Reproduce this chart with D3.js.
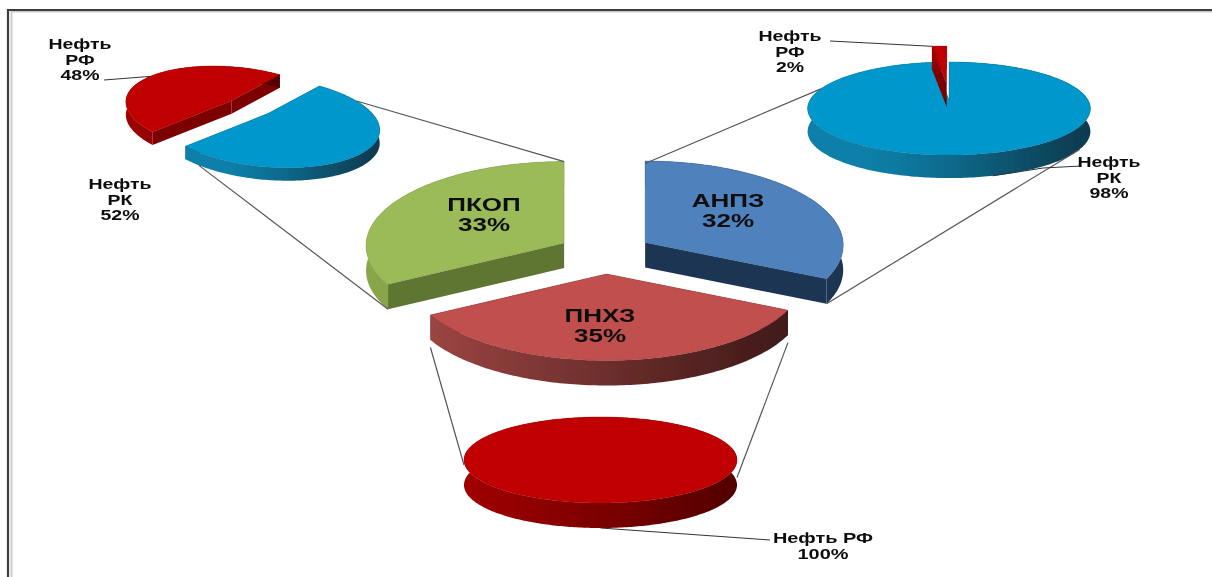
<!DOCTYPE html>
<html>
<head>
<meta charset="utf-8">
<script src="https://cdn.jsdelivr.net/npm/d3@7"></script>
<style>
  html, body { margin: 0; padding: 0; background: #fff; }
  svg { display: block; }
  text { font-family: "Liberation Sans", Arial, sans-serif; font-weight: bold; text-anchor: middle; }
</style>
</head>
<body>
<svg width="1212" height="577" viewBox="0 0 1212 577"></svg>
<script>
// plants, share of total
const plants = ["АНПЗ", "ПНХЗ", "ПКОП"];
const plantShare = [32, 35, 33];

// crude source per plant
const leftNames = ["Нефть РК", "Нефть РФ"];
const leftShare = [52, 48];
const rightNames = ["Нефть РК", "Нефть РФ"];
const rightShare = [98, 2];
const bottomNames = ["Нефть РФ"];
const bottomShare = [100];

const rad = Math.PI / 180;
const svg = d3.select("svg");
const defs = svg.append("defs");
defs.append("filter").attr("id", "soft")
  .append("feGaussianBlur").attr("stdDeviation", 0.45);
const root = svg.append("g").attr("filter", "url(#soft)");

// frame, only the top and left sides show in the picture
root.append("path").attr("d", "M1212,11.5H11.5V577").attr("fill", "none").attr("stroke", "#ccc").attr("stroke-width", 2);
root.append("path").attr("d", "M1212,10H8V577").attr("fill", "none").attr("stroke", "#3c3c3c").attr("stroke-width", 2.2);

// circle -> screen, p is the perspective squeeze of the far side, k a slight tilt
function projector(cfg) {
  return (theta, r) => {
    const u = Math.sin(theta) * r, v = Math.cos(theta) * r;
    const w = 1 + cfg.p * v;
    const x = cfg.rx * u / w;
    return [x, -cfg.ry * v / w + (cfg.k || 0) * x];
  };
}

function layoutPie(cfg, values) {
  const proj = projector(cfg);
  const arcs = d3.pie().sort(null).startAngle(cfg.start * rad).endAngle((cfg.start + 360) * rad)(values);
  return arcs.map((a, i) => {
    const mid = (a.startAngle + a.endAngle) / 2;
    const e = cfg.explode[i];
    return {
      ...a,
      cfg,
      proj,
      scale: cfg.scale ? cfg.scale[i] : 1,
      ox: cfg.cx + e * Math.sin(mid),
      oy: cfg.cy - e * Math.cos(mid) * cfg.ky,
      style: cfg.styles[i]
    };
  });
}

// point on a slice, on top face (down=0) or lower rim (down=1)
function pt(s, deg, down) {
  const [x, y] = s.proj(deg * rad, 1);
  return [s.ox + x * s.scale, s.oy + y * s.scale + (down || 0) * s.cfg.depth];
}

function rimPoints(s, down) {
  const n = Math.max(6, Math.round((s.endAngle - s.startAngle) / rad));
  return d3.range(n + 1).map((i) => {
    const t = s.startAngle + (s.endAngle - s.startAngle) * i / n;
    return pt(s, t / rad, down);
  });
}

let gradId = 0;
function wallGradient(s) {
  const id = "wall" + gradId++;
  const pts = rimPoints(s, 0);
  const ext = d3.extent(pts, (d) => d[0]);
  const g = defs.append("linearGradient").attr("id", id).attr("gradientUnits", "userSpaceOnUse")
    .attr("x1", ext[0]).attr("x2", ext[1]).attr("y1", 0).attr("y2", 0);
  const color = d3.scaleLinear().domain(d3.range(s.style.wall.length).map((i) => i / (s.style.wall.length - 1))).range(s.style.wall);
  d3.range(0, 1.01, 0.1).forEach((o) => g.append("stop").attr("offset", o).attr("stop-color", color(o)));
  return "url(#" + id + ")";
}

const line = d3.line();

function drawSlice(g, s) {
  const isFull = s.endAngle - s.startAngle > 6.28;
  const top = rimPoints(s, 0), low = rimPoints(s, 1);
  const apex = [s.ox, s.oy], apexLow = [s.ox, s.oy + s.cfg.depth];
  if (!isFull) {
    // cut faces
    [top[0], top[top.length - 1]].forEach((c, i) => {
      const cLow = i ? low[low.length - 1] : low[0];
      g.append("path").attr("d", line([apex, c, cLow, apexLow]) + "Z").attr("fill", s.style.cut);
    });
  }
  g.append("path").attr("d", line(top.concat(low.slice().reverse())) + "Z").attr("fill", wallGradient(s));
  const face = isFull ? top : [apex].concat(top);
  g.append("path").attr("d", line(face) + "Z").attr("fill", s.style.top)
    .attr("stroke", s.style.edge).attr("stroke-width", 0.6).attr("stroke-opacity", 0.6);
}

const kzStyle = { top: "#0097cc", cut: "#006f99", edge: "#0b6f95", wall: ["#0a7fa9", "#0a7fa9", "#0c6a8c", "#0e4f69", "#0b3a4e"] };
const ruStyle = { top: "#c00000", cut: "#7d0000", edge: "#8e0000", wall: ["#a00000", "#8a0000", "#6e0000", "#520000"] };

const mainCfg = {
  cx: 605, cy: 253.5, rx: 198, ry: 84, p: 0.03, ky: 0.43, depth: 25, start: 0,
  explode: [47.5, 47.5, 47.5],
  styles: [
    { top: "#4f81bd", cut: "#1f3552", edge: "#3a6290", wall: ["#1f3a5c", "#1d3453"] },
    { top: "#c0504d", cut: "#6b2a28", edge: "#8e3a38", wall: ["#9a4542", "#7c3533", "#5b2624", "#411a19"] },
    { top: "#9bbb59", cut: "#5f7431", edge: "#7b9a40", wall: ["#89a64c", "#7f9a45"] }
  ]
};
const leftCfg = {
  cx: 250, cy: 107, rx: 109, ry: 43, p: 0.2, k: 0.07, ky: 0.46, depth: 13, start: 33,
  explode: [23, 23],
  scale: [1, 0.95],
  styles: [kzStyle, ruStyle]
};
const rightCfg = {
  cx: 949, cy: 100, rx: 139, ry: 45, p: 0.183, ky: 0.43, depth: 23, start: 0,
  explode: [0, 37],
  styles: [kzStyle, ruStyle]
};
const bottomCfg = {
  cx: 600.5, cy: 460, rx: 136.5, ry: 43, p: 0, ky: 0.43, depth: 25, start: 0,
  explode: [0],
  styles: [ruStyle]
};

const mainPie = layoutPie(mainCfg, plantShare);
const leftPie = layoutPie(leftCfg, leftShare);
const rightPie = layoutPie(rightCfg, rightShare);
const bottomPie = layoutPie(bottomCfg, bottomShare);

// pies, back to front
[leftPie, rightPie, mainPie, bottomPie].forEach((pie) => {
  const g = root.append("g");
  pie.forEach((s) => drawSlice(g, s));
});

// series lines between plant slices and their breakdown pies
const linkG = root.append("g").attr("fill", "none").attr("stroke", "#555").attr("stroke-width", 1.2);
const links = [
  [pt(leftPie[0], 62, 0), pt(mainPie[2], 360, 0)],
  [pt(leftPie[0], 212, 1), pt(mainPie[2], 241.2, 1)],
  [pt(rightPie[0], 285, 0), pt(mainPie[0], 0, 0.1)],
  [pt(rightPie[0], 122, 1), pt(mainPie[0], 115.2, 1)],
  [pt(mainPie[1], 241.2, 1.3), pt(bottomPie[0], 270, 0.2)],
  [pt(mainPie[1], 115.2, 1.3), pt(bottomPie[0], 90, 0.7)]
];
links.forEach((l) => linkG.append("path").attr("d", line(l)));

// label leaders
const leaderG = root.append("g").attr("fill", "none").attr("stroke", "#333").attr("stroke-width", 1);
const leaders = [
  [[104, 80], pt(leftPie[1], 300, 0)],
  [[830, 41], pt(rightPie[1], 353, 0)],
  [[1081, 166], [1043, 168], pt(rightPie[0], 165, 1)],
  [[770, 540], pt(bottomPie[0], 180, 1)]
];
leaders.forEach((l) => leaderG.append("path").attr("d", line(l)));

// labels: the source picture is stretched wide, so the text is as well
function label(x, y, rows, size, lead, sx) {
  rows.forEach((t, i) => {
    root.append("text")
      .attr("transform", `translate(${x},${y + i * lead}) scale(${sx},1)`)
      .attr("font-size", size).attr("fill", "#111").text(t);
  });
}
const pct = (v) => v + "%";
label(80, 49, ["Нефть", "РФ", pct(leftShare[1])], 15, 15.5, 1.3);
label(120, 189, ["Нефть", "РК", pct(leftShare[0])], 15, 15.5, 1.3);
label(790, 41, ["Нефть", "РФ", pct(rightShare[1])], 15, 15.5, 1.3);
label(1109, 167, ["Нефть", "РК", pct(rightShare[0])], 15, 15.5, 1.3);
label(823, 543, [bottomNames[0], pct(bottomShare[0])], 15, 15.5, 1.33);
label(484, 211, [plants[2], pct(plantShare[2])], 19, 20, 1.37);
label(728, 207, [plants[0], pct(plantShare[0])], 19, 20, 1.37);
label(600, 322, [plants[1], pct(plantShare[1])], 19, 20, 1.37);
</script>
</body>
</html>
